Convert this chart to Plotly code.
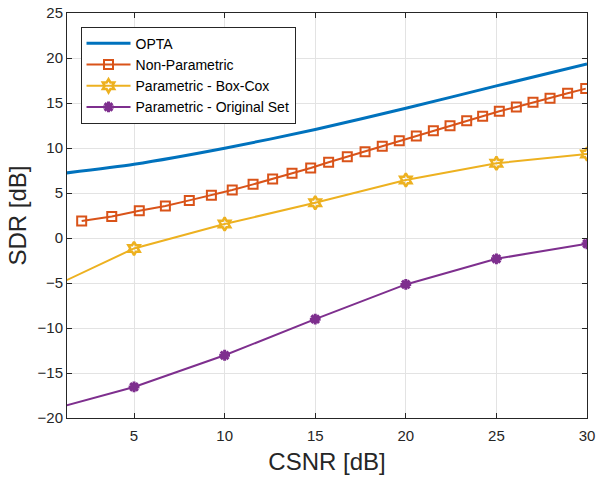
import plotly.graph_objects as go

# ---- data ----
opta_x = [0, 5, 10, 15, 20, 25, 30]
opta_y = [6.92, 8.19, 9.97, 12.05, 14.42, 16.9, 19.34]

nonpar_x = [2.11, 3.77, 5.29, 6.73, 8.05, 9.27, 10.42, 11.57, 12.65, 13.72,
            14.75, 15.74, 16.77, 17.75, 18.70, 19.64, 20.58, 21.52, 22.44,
            23.36, 24.24, 25.16, 26.10, 27.02, 27.96, 28.93, 29.93]
nonpar_y = [1.88, 2.40, 3.03, 3.55, 4.18, 4.74, 5.33, 5.96, 6.55, 7.19,
            7.78, 8.41, 9.03, 9.59, 10.19, 10.81, 11.34, 11.92, 12.48,
            13.04, 13.53, 14.08, 14.56, 15.08, 15.53, 16.08, 16.60]

boxcox_x = [0, 5, 10, 15, 20, 25, 30]
boxcox_y = [-5.9, -1.16, 1.55, 3.92, 6.44, 8.30, 9.33]

orig_x = [0, 5, 10, 15, 20, 25, 30]
orig_y = [-19.3, -16.55, -13.03, -9.02, -5.16, -2.31, -0.64]

x_ticks = [5, 10, 15, 20, 25, 30]
y_ticks = [-20, -15, -10, -5, 0, 5, 10, 15, 20, 25]

names = ["OPTA", "Non-Parametric", "Parametric - Box-Cox", "Parametric - Original Set"]
colors = ["#0072BD", "#D95319", "#EDB120", "#7E2F8E"]

FONT = "Liberation Sans, Arial, sans-serif"

fig = go.Figure()
fig.add_trace(go.Scatter(x=opta_x, y=opta_y, mode="lines", name=names[0],
                         line=dict(color=colors[0], width=3, shape="spline", smoothing=0.6)))
fig.add_trace(go.Scatter(x=nonpar_x, y=nonpar_y, mode="lines+markers", name=names[1],
                         line=dict(color=colors[1], width=2),
                         marker=dict(symbol="square-open", size=9,
                                     line=dict(color=colors[1], width=2))))
fig.add_trace(go.Scatter(x=boxcox_x, y=boxcox_y, mode="lines+markers", name=names[2],
                         line=dict(color=colors[2], width=2),
                         marker=dict(symbol="hexagram-open", size=10,
                                     line=dict(color=colors[2], width=2.5))))
fig.add_trace(go.Scatter(x=orig_x, y=orig_y, mode="lines+markers", name=names[3],
                         line=dict(color=colors[3], width=2),
                         marker=dict(symbol="asterisk-open", size=9,
                                     line=dict(color=colors[3], width=3))))

axis_common = dict(
    showgrid=True, gridcolor="#e3e3e3", gridwidth=1,
    showline=True, linecolor="#262626", linewidth=1, mirror="ticks",
    ticks="inside", ticklen=5, tickcolor="#262626",
    tickfont=dict(family=FONT, size=15, color="#262626"),
    zeroline=False, automargin=False,
)

fig.update_xaxes(range=[1.3, 30], tickvals=x_ticks, ticklabelstandoff=4,
                 title=dict(text="CSNR [dB]", font=dict(family=FONT, size=24, color="#262626"),
                            standoff=10),
                 **axis_common)
fig.update_yaxes(range=[-20, 25], tickvals=y_ticks,
                 title=dict(text="SDR [dB]", font=dict(family=FONT, size=24, color="#262626"),
                            standoff=4),
                 **axis_common)

fig.update_layout(
    width=596, height=480,
    margin=dict(l=67, r=9, t=13, b=62),
    plot_bgcolor="white", paper_bgcolor="white",
    font=dict(family=FONT, color="#262626"),
    showlegend=True,
    legend=dict(x=0.026, y=0.966, xanchor="left", yanchor="top",
                bgcolor="white", bordercolor="#262626", borderwidth=1,
                font=dict(family=FONT, size=14, color="#000000"),
                tracegroupgap=0, itemwidth=44),
)

# remove the browser's default 8px body margin so the 596x480 figure fills the window
fig.write_html("out.html", config={"displayModeBar": False},
               post_script="document.body.style.margin='0';document.body.style.overflow='hidden';")
